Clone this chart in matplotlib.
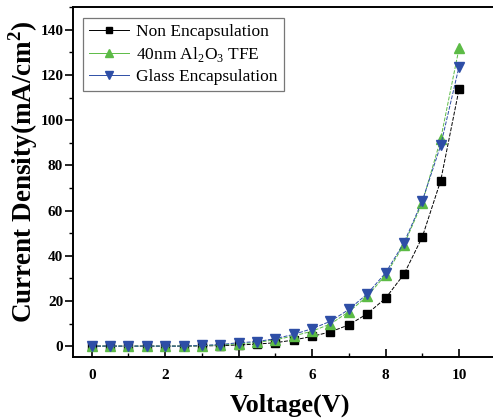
import numpy as np
import matplotlib
matplotlib.use("Agg")
import matplotlib.pyplot as plt
from matplotlib.ticker import MultipleLocator

plt.rcParams['font.family'] = ['Liberation Serif', 'DejaVu Serif']
plt.rcParams['mathtext.fontset'] = 'custom'
plt.rcParams['mathtext.rm'] = 'Liberation Serif'
plt.rcParams['mathtext.bf'] = 'Liberation Serif:bold'

voltage = np.arange(0, 10.01, 0.5)
non_encap = [0, 0, 0, 0, 0, 0, 0.1, 0.2, 0.5, 0.9, 1.5, 2.7, 4.3, 6.3, 9.4, 14.3, 21.2, 31.8, 48.3, 73.2, 113.7]
al2o3_tfe = [0, 0, 0, 0, 0, 0, 0.2, 0.5, 1.0, 1.6, 2.8, 4.5, 6.6, 9.8, 15.2, 22.0, 31.5, 44.8, 63.5, 91.6, 131.8]
glass_encap = [0, 0, 0, 0, 0, 0, 0.3, 0.7, 1.5, 2.0, 3.3, 5.2, 7.7, 11.0, 16.2, 23.1, 32.4, 45.7, 64.3, 88.8, 123.7]

fig = plt.figure(figsize=(4.93, 4.19), dpi=100)
ax = fig.add_axes([0.148, 0.147, 0.88, 0.836])

ax.plot(voltage, non_encap, color='black', ls=(0, (4, 1.5)), lw=0.7,
        marker='s', ms=6, mec='black', label='Non Encapsulation')
ax.plot(voltage, al2o3_tfe, color='#5cbb46', ls=(0, (4, 1.5)), lw=0.7,
        marker='^', ms=7.5, mec='#5cbb46', label=r'40nm Al$_2$O$_3$ TFE')
ax.plot(voltage, glass_encap, color='#2e4ea6', ls=(0, (4, 1.5)), lw=0.7,
        marker='v', ms=7.5, mec='#2e4ea6', label='Glass Encapsulation')

ax.set_xlim(-0.51, 11.3)
ax.set_ylim(-5, 150)
ax.xaxis.set_major_locator(MultipleLocator(2))
ax.xaxis.set_minor_locator(MultipleLocator(1))
ax.yaxis.set_major_locator(MultipleLocator(20))
ax.yaxis.set_minor_locator(MultipleLocator(10))
ax.tick_params(axis='x', which='major', direction='in', length=6, width=1.2, pad=8)
ax.tick_params(axis='x', which='minor', direction='in', length=3, width=1.0)
ax.tick_params(axis='y', which='major', direction='out', length=5.5, width=1.2, pad=1.5)
ax.tick_params(axis='y', which='minor', direction='out', length=3, width=1.0)
for lbl in ax.get_xticklabels() + ax.get_yticklabels():
    lbl.set_fontweight('bold')
    lbl.set_fontsize(11)
for sp in ax.spines.values():
    sp.set_linewidth(1.4)

ax.set_xlabel('Voltage(V)', fontsize=19, fontweight='bold', labelpad=9)
ax.set_ylabel(r'Current Density(mA/cm$^\mathbf{2}$)', fontsize=19.5, fontweight='bold')
ax.yaxis.set_label_coords(-0.076, 0.53)

leg = ax.legend(loc='upper left', fontsize=12.5, frameon=True, fancybox=False,
                edgecolor='#555555', handlelength=2.3, handletextpad=0.4,
                borderpad=0.35, labelspacing=0.3, borderaxespad=0.6,
                markerscale=0.75)
for line in leg.get_lines():
    line.set_linestyle('-')
leg.get_frame().set_linewidth(0.9)

fig.savefig('out.png', dpi=100)
